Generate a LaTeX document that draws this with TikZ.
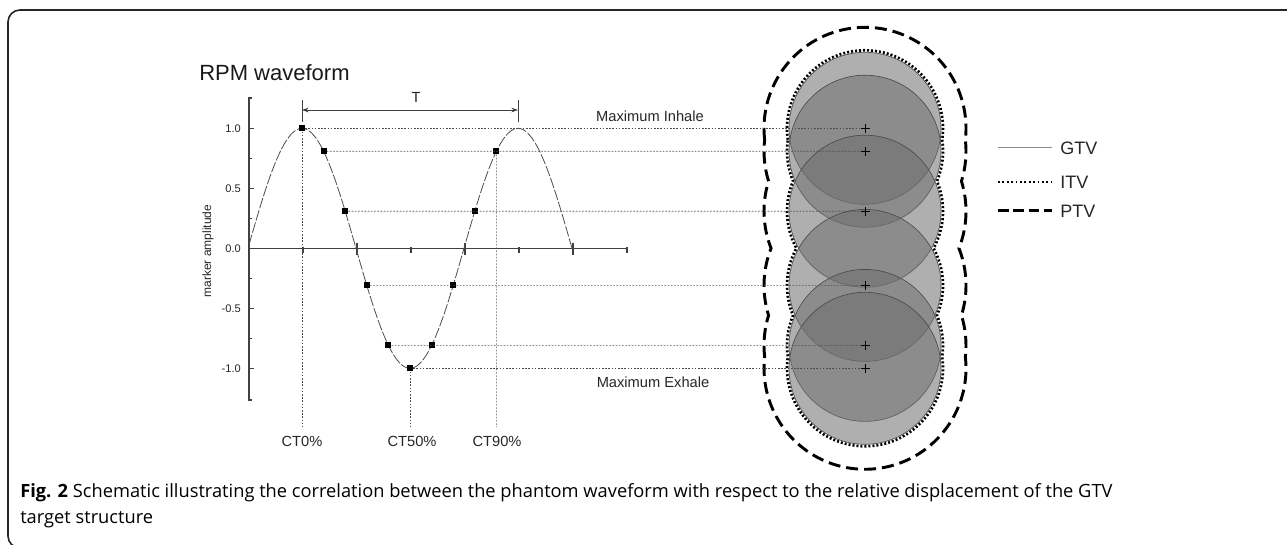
\documentclass[tikz,border=0pt]{standalone}
\usepackage{fontspec}
\setmainfont{Liberation Sans}
\newfontfamily\capfont{Open Sans}
\usetikzlibrary{arrows.meta,calc}

\begin{document}
\begin{tikzpicture}[x=0.75pt,y=-0.75pt,
  lbl/.style={text=black!85, inner sep=0pt, font=\fontsize{11pt}{13pt}\selectfont},
  ticklbl/.style={text=black!85, inner sep=0pt, anchor=east, font=\fontsize{8.3pt}{10pt}\selectfont},
  mk/.style={fill=black, minimum size=4.5pt, inner sep=0pt, draw=none, rectangle},
  guide/.style={black!70, line width=0.5pt, dash pattern=on 1.2pt off 1.2pt},
  axisln/.style={black!75, line width=0.8pt},
  wave/.style={black!70, line width=0.6pt, dash pattern=on 8pt off 1.5pt},
  gtv/.style={draw=black!70, line width=0.5pt, fill=black!57, fill opacity=0.55},
  itv/.style={draw=black, line width=2pt, dash pattern=on 1.5pt off 1.5pt},
  ptv/.style={draw=black, line width=2.2pt, dash pattern=on 9pt off 4.5pt},
  legtext/.style={anchor=west, inner sep=0pt, text=black!85, font=\fontsize{13.5pt}{15pt}\selectfont},
  captext/.style={anchor=base west, inner sep=0pt, font=\capfont\fontsize{13.7pt}{16pt}\selectfont},
]
\useasboundingbox (0,0) rectangle (1287,544);

% frame
\draw[black!85, line width=1.2pt, rounded corners=9pt] (1300,10) -- (8,10) -- (8,548) -- (1300,548);

% ---------------- waveform plot ----------------
\node[anchor=west, inner sep=0pt, text=black!90, font=\fontsize{16.5pt}{18pt}\selectfont] (ttl) at (199,73) {RPM waveform};
\node[rotate=90, inner sep=0pt, text=black!85, font=\fontsize{9pt}{11pt}\selectfont] (ylab) at (208,251) {marker amplitude};

% axes
\draw[axisln] (252,98) -- (249,98) -- (249,400) -- (252,400);
\draw[axisln] (249,248.3) -- (626,248.3);
\foreach \v/\t in {1/1.0,0.5/0.5,0/0.0,-0.5/-0.5,-1/-1.0}{
  \draw[axisln] (249,{248.3-120*\v}) -- ++(5,0);
  \node[ticklbl] at (241,{248.3-120*\v}) {\t};
}
\foreach \v in {0.75,0.25,-0.25,-0.75}
  \draw[axisln] (249,{248.3-120*\v}) -- ++(3,0);
\foreach \k in {2,4,6}
  \draw[axisln] ({249+54*\k},242.5) -- ++(0,12);
\foreach \k in {1,3,5,7}
  \draw[axisln] ({249+54*\k},247) -- ++(0,6);

% sine trace (period 216 px, peak at x = 302)
\draw[wave] plot[domain=249:572, samples=140] (\x, {248.3-120*cos(1.666667*(\x-302))});

% sampled phases (10% steps)
\foreach \i in {0,...,9}
  \node[mk] (p\i) at ({302+21.6*\i}, {248.3-120*cos(36*\i)}) {};

% period bracket
\coordinate (t0) at (302,100);
\coordinate (tb0) at (302,122);
\coordinate (t1) at (518,100);
\coordinate (tb1) at (518,122);
\coordinate (ta0) at (302,110);
\coordinate (ta1) at (518,110);
\draw[black!75, line width=0.6pt] (t0) -- (tb0) (t1) -- (tb1);
\draw[black!75, line width=0.6pt, {Stealth[length=5pt,width=3.5pt]}-{Stealth[length=5pt,width=3.5pt]}] (ta0) -- (ta1);
\node[lbl] (tlab) at (416,97) {T};

% ---------------- target volumes ----------------
\coordinate (c0) at (865,128.3);
\coordinate (c1) at (865,151.2);
\coordinate (c2) at (865,211.2);
\coordinate (c3) at (865,285.4);
\coordinate (c4) at (865,345.4);
\coordinate (c5) at (865,368.3);

% PTV envelope
\draw[ptv] (c0) ++(186.509:75.75pt)
  arc[start angle=186.509, end angle=-6.509, radius=75.75pt]
  arc[start angle=6.509, end angle=-17.280, radius=75.75pt]
  arc[start angle=17.280, end angle=-21.551, radius=75.75pt]
  arc[start angle=21.551, end angle=-17.280, radius=75.75pt]
  arc[start angle=17.280, end angle=-6.509, radius=75.75pt]
  arc[start angle=6.509, end angle=-186.509, radius=75.75pt]
  arc[start angle=186.509, end angle=162.720, radius=75.75pt]
  arc[start angle=197.280, end angle=158.449, radius=75.75pt]
  arc[start angle=201.551, end angle=162.720, radius=75.75pt]
  arc[start angle=197.280, end angle=173.491, radius=75.75pt]
  -- cycle;

% GTV positions
\foreach \c in {c0,c1,c2,c3,c4,c5}
  \path[gtv] (\c) circle[radius=57pt];

% ITV envelope
\draw[itv] (c0) ++(188.441:58.5pt)
  arc[start angle=188.441, end angle=-8.441, radius=58.5pt]
  arc[start angle=8.441, end angle=-22.620, radius=58.5pt]
  arc[start angle=22.620, end angle=-28.400, radius=58.5pt]
  arc[start angle=28.400, end angle=-22.620, radius=58.5pt]
  arc[start angle=22.620, end angle=-8.441, radius=58.5pt]
  arc[start angle=8.441, end angle=-188.441, radius=58.5pt]
  arc[start angle=188.441, end angle=157.380, radius=58.5pt]
  arc[start angle=202.620, end angle=151.600, radius=58.5pt]
  arc[start angle=208.400, end angle=157.380, radius=58.5pt]
  arc[start angle=202.620, end angle=171.559, radius=58.5pt]
  -- cycle;

% guide lines from the samples to the target centres
\draw[guide] (p0) -- (c0);
\draw[guide] (p1) -- (c1);
\draw[guide] (p2) -- (c2);
\draw[guide] (p3) -- (c3);
\draw[guide] (p4) -- (c4);
\draw[guide] (p5) -- (c5);

\coordinate (b0) at (302,427);
\coordinate (b5) at (410,427);
\coordinate (b9) at (496.4,427);
\draw[guide] (p0) -- (b0);
\draw[guide] (p5) -- (b5);
\draw[guide] (p9) -- (b9);

\node[lbl] (ct0) at (302,441) {CT0\%};
\node[lbl] (ct50) at (412,441) {CT50\%};
\node[lbl] (ct90) at (497,441) {CT90\%};

\node[lbl] (inh) at (650,116) {Maximum Inhale};
\node[lbl] (exh) at (653,382) {Maximum Exhale};

% centre marks
\foreach \c in {c0,c1,c2,c3,c4,c5}
  \draw[black, line width=0.5pt] (\c) ++(-4.5,0) -- ++(9,0) (\c) ++(0,-4.5) -- ++(0,9);

% ---------------- legend ----------------
\coordinate (lg1a) at (998,147.7);
\coordinate (lg1b) at (1052,147.7);
\coordinate (lg2a) at (998,181.7);
\coordinate (lg2b) at (1052,181.7);
\coordinate (lg3a) at (998,210.7);
\coordinate (lg3b) at (1052,210.7);
\draw[black!45, line width=1pt] (lg1a) -- (lg1b);
\draw[black, line width=1.5pt, dash pattern=on 1.3pt off 2pt] (lg2a) -- (lg2b);
\draw[black, line width=2pt, dash pattern=on 8pt off 3.5pt] (lg3a) -- (lg3b);
\node[legtext] (lgt1) at (1060,148) {GTV};
\node[legtext] (lgt2) at (1060,182) {ITV};
\node[legtext] (lgt3) at (1060,211) {PTV};

% ---------------- caption ----------------
\node[captext] (cap1) at (20,497)
  {\textbf{Fig. 2} Schematic illustrating the correlation between the phantom waveform with respect to the relative displacement of the GTV};
\node[captext] (cap2) at (20,523) {target structure};
\end{tikzpicture}
\end{document}
